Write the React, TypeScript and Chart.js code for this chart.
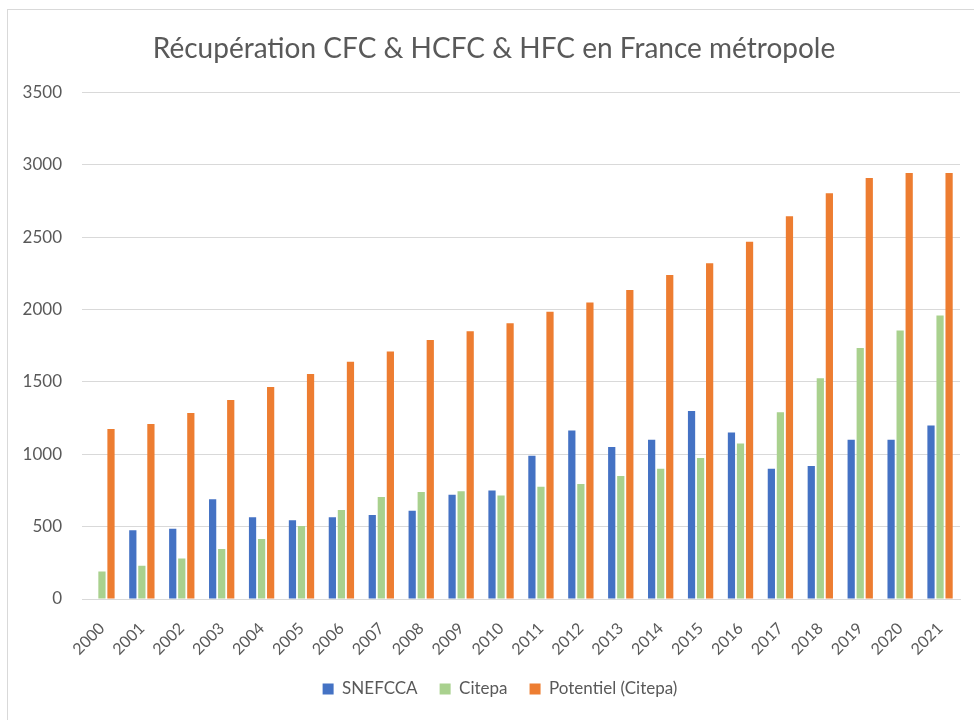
import React, { useEffect, useRef } from "react";
import { Chart, registerables } from "chart.js";

Chart.register(...registerables);

const years = ["2000","2001","2002","2003","2004","2005","2006","2007","2008","2009","2010","2011","2012","2013","2014","2015","2016","2017","2018","2019","2020","2021"];
const snefcca = [null, 475, 485, 690, 565, 545, 565, 580, 610, 720, 750, 990, 1165, 1050, 1100, 1300, 1150, 900, 920, 1100, 1100, 1200];
const citepa = [190, 230, 280, 345, 415, 505, 615, 705, 740, 745, 715, 775, 795, 850, 900, 975, 1075, 1290, 1525, 1735, 1855, 1960];
const potentiel = [1175, 1210, 1285, 1375, 1465, 1555, 1640, 1710, 1790, 1850, 1905, 1985, 2050, 2135, 2240, 2320, 2470, 2645, 2805, 2910, 2945, 2945];

const FONT = "Lato, 'Open Sans', sans-serif";
const TEXT = "#595959";
const GRID = "#D9D9D9";

// Centers title and legend on the full (cropped) chart frame and lifts the legend.
const nudge = {
  id: "nudge",
  afterLayout(chart: any) {
    const t = chart.titleBlock;
    if (t) { t.left += 10; t.right += 10; }
    const l = chart.legend;
    if (l) { l.left += 16; l.right += 16; l.top -= 6.5; l.bottom -= 6.5; }
  },
};

export default function App() {
  const ref = useRef<HTMLCanvasElement | null>(null);
  useEffect(() => {
    if (!ref.current) return;
    const chart = new Chart(ref.current, {
      type: "bar",
      data: {
        labels: years,
        datasets: [
          { label: "SNEFCCA", data: snefcca as any, backgroundColor: "#4472C4" },
          { label: "Citepa", data: citepa, backgroundColor: "#A9D18E" },
          { label: "Potentiel (Citepa)", data: potentiel, backgroundColor: "#ED7D31" },
        ],
      },
      plugins: [nudge],
      options: {
        responsive: false,
        animation: false,
        datasets: { bar: { categoryPercentage: 0.68, barPercentage: 0.8 } },
        layout: { padding: { left: 0, right: 14, top: 0, bottom: 6 } },
        plugins: {
          title: {
            display: true,
            text: "Récupération CFC & HCFC & HFC en France métropole",
            color: TEXT,
            font: { family: FONT, size: 28, weight: "normal", lineHeight: 1.2 },
            padding: { top: 22, bottom: 27 },
          },
          legend: {
            position: "bottom",
            labels: {
              color: TEXT,
              font: { family: FONT, size: 17 },
              boxWidth: 11,
              boxHeight: 11,
              padding: 22,
            },
          },
          tooltip: { enabled: false },
        },
        scales: {
          x: {
            grid: { display: false },
            border: { display: true, color: GRID },
            ticks: {
              color: TEXT,
              font: { family: FONT, size: 16 },
              minRotation: 45,
              maxRotation: 45,
              padding: 12,
            },
            afterFit: (s: any) => { s.height = 66; },
          },
          y: {
            min: 0,
            max: 3500,
            grid: { color: GRID, drawTicks: false },
            border: { display: false },
            ticks: {
              stepSize: 500,
              color: TEXT,
              font: { family: FONT, size: 17 },
              padding: 20,
              callback: (v: any) => String(v),
            },
            afterFit: (s: any) => { s.width = 74; },
          },
        },
      },
    });
    return () => chart.destroy();
  }, []);
  return (
    <div
      style={{
        position: "fixed",
        left: 7,
        top: 9,
        width: 967,
        height: 711,
        borderLeft: "1px solid #D9D9D9",
        borderTop: "1px solid #D9D9D9",
        boxSizing: "border-box",
        background: "#fff",
      }}
    >
      <canvas ref={ref} width={966} height={710} style={{ display: "block", width: 966, height: 710 }} />
    </div>
  );
}
